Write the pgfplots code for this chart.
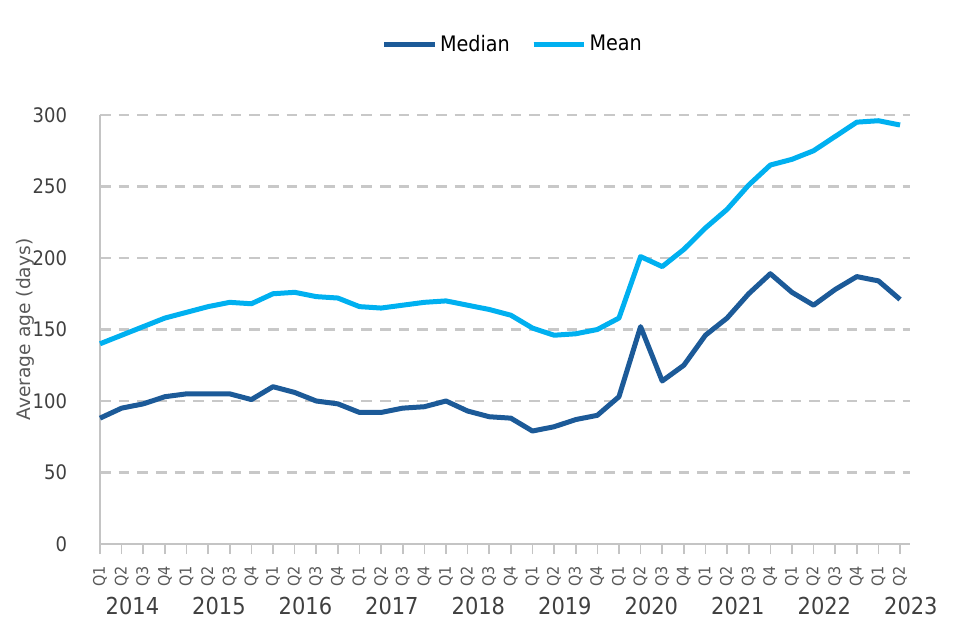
\documentclass[border=0pt]{standalone}
\usepackage{fontspec}
\setmainfont{DejaVu Sans Condensed}
\newfontfamily\labelfont{DejaVu Sans}
\usepackage{pgfplots}
\pgfplotsset{compat=1.18}
\definecolor{median}{HTML}{1C5A98}
\definecolor{mean}{HTML}{00B0F0}
\definecolor{gridgray}{HTML}{C8C8C8}
\definecolor{axisgray}{HTML}{C4C4C4}
\definecolor{ticktext}{HTML}{404040}
\definecolor{labelgray}{HTML}{595959}

\begin{document}
\begin{tikzpicture}
\useasboundingbox (-75pt,-72pt) rectangle (645pt,408pt);
\begin{axis}[
  at={(0,0)}, anchor=south west,
  scale only axis, width=607.5pt, height=321.75pt,
  xmin=0, xmax=37.46, ymin=0, ymax=300,
  clip=false,
  axis x line*=bottom, axis y line*=left,
  axis line style={axisgray, line width=1.5pt, -},
  ytick={0,50,...,300},
  ymajorgrids,
  grid style={gridgray, line width=1.8pt, dash pattern=on 8pt off 6pt},
  y tick style={draw=none},
  tick align=outside,
  major tick length=7.5pt,
  x tick style={axisgray, line width=1.2pt},
  xtick={0,...,37},
  xticklabels={Q1,Q2,Q3,Q4,Q1,Q2,Q3,Q4,Q1,Q2,Q3,Q4,Q1,Q2,Q3,Q4,Q1,Q2,Q3,Q4,
               Q1,Q2,Q3,Q4,Q1,Q2,Q3,Q4,Q1,Q2,Q3,Q4,Q1,Q2,Q3,Q4,Q1,Q2},
  xticklabel style={font=\fontsize{12}{14}\selectfont, text=labelgray, rotate=90, anchor=east, inner sep=0pt},
  xticklabel shift=9pt,
  yticklabel style={font=\fontsize{15}{18}\selectfont, text=ticktext, inner sep=0pt},
  yticklabel shift=17pt,
  /pgf/number format/assume math mode=true,
  ylabel={Average age (days)},
  every axis y label/.style={at={(axis description cs:0,0.5)}, xshift=-56pt, rotate=90, anchor=center,
    font=\labelfont\fontsize{14}{16}\selectfont, text=labelgray},
  legend columns=2,
  legend style={draw=none, fill=none, at={(axis description cs:0.51,1.1655)}, anchor=center,
    font=\fontsize{16}{19}\selectfont, /tikz/every even column/.append style={column sep=14pt}},
  legend image code/.code={\draw[#1, line width=3.75pt] (0pt,0pt) -- (28pt,0pt); \path (0pt,0pt) -- (38pt,0pt);},
]
\addplot[median, line width=3.75pt, line join=round] table[x=i, y=v] {
i v
0 88
1 95
2 98
3 103
4 105
5 105
6 105
7 101
8 110
9 106
10 100
11 98
12 92
13 92
14 95
15 96
16 100
17 93
18 89
19 88
20 79
21 82
22 87
23 90
24 103
25 152
26 114
27 125
28 146
29 158
30 175
31 189
32 176
33 167
34 178
35 187
36 184
37 171
};
\addplot[mean, line width=3.75pt, line join=round] table[x=i, y=v] {
i v
0 140
1 146
2 152
3 158
4 162
5 166
6 169
7 168
8 175
9 176
10 173
11 172
12 166
13 165
14 167
15 169
16 170
17 167
18 164
19 160
20 151
21 146
22 147
23 150
24 158
25 201
26 194
27 206
28 221
29 234
30 251
31 265
32 269
33 275
34 285
35 295
36 296
37 293
};
\legend{Median,Mean}
\begin{scope}[every node/.style={font=\fontsize{17.5}{20}\selectfont, text=ticktext, anchor=base, yshift=-53pt}]
\node at (axis cs:1.5,0) {2014};
\node at (axis cs:5.5,0) {2015};
\node at (axis cs:9.5,0) {2016};
\node at (axis cs:13.5,0) {2017};
\node at (axis cs:17.5,0) {2018};
\node at (axis cs:21.5,0) {2019};
\node at (axis cs:25.5,0) {2020};
\node at (axis cs:29.5,0) {2021};
\node at (axis cs:33.5,0) {2022};
\node at (axis cs:37.5,0) {2023};
\end{scope}
\end{axis}
\end{tikzpicture}
\end{document}
